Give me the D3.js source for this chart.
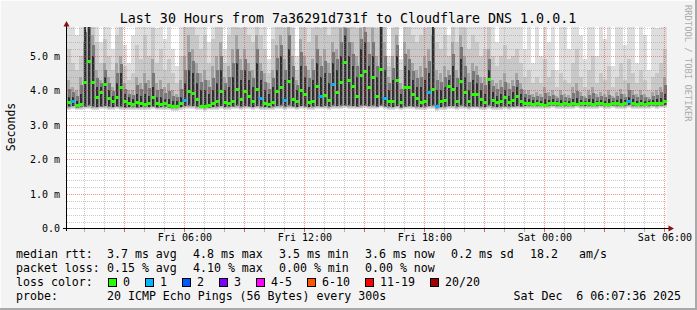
<!DOCTYPE html>
<html><head><meta charset="utf-8">
<script src="https://cdn.jsdelivr.net/npm/d3@7"></script>
<style>
html,body{margin:0;padding:0;background:#f3f3f3;}
svg{display:block;}
text{font-family:"DejaVu Sans Mono",monospace;fill:#000;white-space:pre;}
</style>
</head><body>
<svg id="chart" width="697" height="310"></svg>
<script>
const title = "Last 30 Hours from 7a36291d731f to Cloudflare DNS 1.0.0.1";
const yAxisTitle = "Seconds";
const watermark = "RRDTOOL / TOBI OETIKER";
const startTime = Date.UTC(2025, 11, 5, 0, 7, 36);
const endTime = Date.UTC(2025, 11, 6, 6, 7, 36);
const slotMinutes = 12;

// median rtt per 12-minute slot (ms)
const median = [
3.65,3.70,3.58,3.60,4.24,4.85,4.24,3.80,3.95,4.18,
3.78,3.70,3.82,4.10,3.68,3.62,3.60,3.65,3.62,3.60,
3.63,3.80,3.62,3.60,3.62,3.58,3.56,3.54,3.62,3.72,
3.97,3.93,3.75,3.56,3.55,3.58,3.62,3.70,3.97,3.65,
3.62,3.70,4.03,3.75,3.97,3.83,3.68,4.03,3.78,3.62,
3.60,3.65,3.97,4.10,3.72,4.27,3.75,3.68,4.00,3.90,
3.66,3.70,4.12,3.83,3.88,3.72,4.18,3.95,4.24,4.82,
4.30,4.12,3.83,4.45,4.56,4.10,4.38,3.85,4.62,3.78,
3.70,3.68,4.30,3.66,4.10,4.10,3.90,3.78,3.66,3.70,
3.95,4.03,3.55,3.68,3.72,4.12,4.03,3.70,4.27,3.95,
3.70,3.90,3.90,3.75,3.66,4.33,3.72,3.65,3.68,3.80,
3.66,3.72,3.83,3.70,3.64,3.62,3.60,3.63,3.60,3.58,
3.62,3.64,3.62,3.60,3.63,3.61,3.62,3.60,3.62,3.64,
3.62,3.60,3.62,3.63,3.60,3.61,3.63,3.62,3.60,3.62,
3.68,3.63,3.61,3.62,3.60,3.62,3.63,3.62,3.64,3.70];

// lost pings (of 20) per slot
const loss = [
0,1,0,0,0,0,0,0,0,0, 0,0,0,0,0,0,0,0,0,0,
0,0,0,0,0,0,0,0,0,1, 0,0,0,0,0,0,0,0,0,0,
0,0,0,0,0,0,0,0,1,0, 0,0,0,0,1,0,0,0,0,0,
0,0,0,1,0,0,1,0,0,0, 0,0,0,0,0,0,0,0,0,1,
0,0,0,0,0,0,0,0,0,0, 1,0,1,0,0,0,0,0,0,0,
0,0,0,0,0,0,0,0,0,0, 0,0,0,0,0,0,0,0,0,0,
0,0,0,0,0,0,0,0,0,0, 0,0,0,0,0,0,0,0,0,0,
1,0,0,0,0,0,0,0,0,0];

// smoke: lowest ping per slot (ms)
const smokeMin = [
3.44,3.46,3.42,3.44,3.45,3.47,3.44,3.43,3.45,3.46,
3.44,3.43,3.45,3.44,3.42,3.43,3.44,3.42,3.43,3.44,
3.43,3.45,3.42,3.43,3.44,3.42,3.41,3.40,3.43,3.46,
3.47,3.46,3.44,3.42,3.41,3.42,3.43,3.44,3.46,3.43,
3.44,3.45,3.47,3.44,3.46,3.45,3.43,3.46,3.44,3.43,
3.42,3.44,3.46,3.47,3.44,3.47,3.45,3.43,3.46,3.45,
3.43,3.44,3.46,3.45,3.46,3.44,3.47,3.46,3.47,3.48,
3.47,3.46,3.45,3.47,3.48,3.46,3.47,3.45,3.48,3.45,
3.44,3.43,3.46,3.42,3.45,3.46,3.45,3.44,3.43,3.44,
3.46,3.47,3.41,3.43,3.44,3.46,3.46,3.44,3.47,3.45,
3.44,3.45,3.45,3.44,3.43,3.47,3.44,3.43,3.44,3.45,
3.44,3.45,3.46,3.45,3.46,3.47,3.46,3.47,3.46,3.45,
3.47,3.48,3.47,3.46,3.47,3.46,3.47,3.48,3.47,3.46,
3.47,3.46,3.47,3.48,3.46,3.47,3.48,3.47,3.46,3.47,
3.49,3.47,3.46,3.47,3.46,3.47,3.48,3.47,3.48,3.49];

// smoke: top of dark inner band
const smokeDark = [
3.80,3.80,3.70,3.90,6.00,6.00,5.00,4.10,4.10,4.40,
4.00,3.85,4.20,4.50,3.90,3.80,3.75,3.90,3.85,3.90,
3.85,4.10,3.80,3.80,3.75,3.75,3.70,3.70,3.80,4.20,
4.60,4.50,4.20,4.00,4.00,3.90,4.00,4.20,4.60,4.00,
4.10,4.40,4.80,4.30,4.60,4.30,4.10,4.80,4.30,4.00,
3.90,4.10,4.60,5.00,4.30,5.20,4.40,4.00,4.70,4.40,
4.10,4.30,4.80,4.40,4.50,4.20,4.80,4.60,5.00,5.60,
5.00,4.70,4.40,5.20,5.40,4.70,5.00,4.40,6.00,4.60,
4.00,4.30,5.00,3.90,4.70,4.60,4.30,4.10,4.10,4.30,
4.50,6.00,4.00,4.00,4.10,4.30,4.70,4.10,4.90,4.40,
4.00,4.30,4.20,4.00,3.90,4.60,3.95,3.85,3.90,4.00,
3.85,3.95,4.10,3.90,3.80,3.75,3.72,3.72,3.70,3.75,
3.72,3.74,3.70,3.72,3.70,3.70,3.75,3.78,3.72,3.70,
3.74,3.76,3.70,3.72,3.70,3.74,3.70,3.72,3.75,3.72,
3.80,3.74,3.70,3.72,3.70,3.68,3.72,3.74,3.78,3.90];

// smoke: top of middle band
const smokeMid = [
4.30,4.10,4.00,4.40,5.40,6.00,5.60,4.60,4.30,4.80,
4.40,4.10,4.80,5.00,4.20,4.00,4.00,4.40,4.20,4.50,
4.30,4.90,4.20,4.30,4.10,4.20,4.00,3.90,4.30,5.00,
5.60,5.20,4.80,4.50,4.60,4.30,4.70,5.00,5.40,4.40,
4.70,5.20,5.60,4.90,5.20,4.80,4.60,5.60,4.80,4.50,
4.20,4.60,5.30,5.60,4.90,6.00,5.00,4.30,5.50,5.00,
4.60,4.90,5.60,5.00,5.20,4.80,5.40,5.20,5.80,6.00,
5.80,5.40,5.00,5.80,6.00,5.40,5.80,5.00,6.00,5.40,
4.40,5.00,5.60,4.20,5.40,5.20,4.80,4.60,4.70,5.00,
5.20,5.60,4.60,4.50,4.70,4.60,5.40,4.60,5.60,5.00,
4.50,4.80,4.70,4.40,4.40,5.20,4.30,4.20,4.30,4.50,
4.20,4.30,4.50,4.20,4.00,4.00,3.90,3.95,3.90,4.10,
3.95,4.00,3.85,4.00,3.90,3.88,4.10,4.20,3.95,3.85,
4.00,4.10,3.90,3.95,3.90,4.00,3.85,3.95,4.05,3.90,
4.20,4.00,3.90,4.00,3.90,3.82,3.95,4.00,4.10,4.40];

// smoke: top of light-middle band
const smokeLight = [
5.20,4.80,4.60,5.00,6.00,6.00,6.00,5.40,4.80,5.50,
5.00,4.60,5.60,6.00,4.70,4.30,4.50,5.30,4.90,5.60,
5.00,5.80,4.80,5.20,4.60,4.90,4.50,4.20,5.00,6.00,
6.00,6.00,5.60,5.20,5.60,4.80,5.50,6.00,6.00,4.80,
5.60,6.00,6.00,5.80,6.00,5.60,5.40,6.00,5.60,5.20,
4.50,5.50,6.00,6.00,5.80,6.00,5.80,4.60,6.00,5.80,
5.40,5.80,6.00,5.80,6.00,5.60,6.00,6.00,6.00,6.00,
6.00,6.00,5.80,6.00,6.00,6.00,6.00,5.80,6.00,6.00,
4.70,5.80,6.00,4.60,6.00,6.00,5.60,5.40,5.60,5.80,
6.00,6.00,5.40,5.20,5.60,5.00,6.00,5.40,6.00,5.80,
5.20,5.60,5.40,5.00,5.20,6.00,5.00,4.70,5.00,5.30,
4.90,5.00,5.20,4.80,4.40,4.60,4.20,4.40,4.20,4.90,
4.40,4.60,4.10,4.50,4.30,4.20,4.80,5.20,4.40,4.10,
4.60,5.00,4.20,4.50,4.30,4.70,4.10,4.40,4.80,4.30,
4.90,4.50,4.20,4.60,4.30,4.00,4.40,4.50,4.80,5.20];

// smoke: highest ping per slot (values above the chart are clipped)
const smokeMax = [
6.0,6.0,5.6,6.0,6.0,6.0,6.0,6.0,5.4,6.0,
6.0,5.2,6.0,6.0,5.3,4.8,5.6,6.0,6.0,6.0,
6.0,6.0,5.8,6.0,5.5,6.0,5.2,4.7,6.0,6.0,
6.0,6.0,6.0,6.0,6.0,5.4,6.0,6.0,6.0,5.2,
6.0,6.0,6.0,6.0,6.0,6.0,6.0,6.0,6.0,6.0,
4.9,6.0,6.0,6.0,6.0,6.0,6.0,5.0,6.0,6.0,
6.0,6.0,6.0,6.0,6.0,6.0,6.0,6.0,6.0,6.0,
6.0,6.0,6.0,6.0,6.0,6.0,6.0,6.0,6.0,6.0,
5.0,6.0,6.0,4.9,6.0,6.0,6.0,6.0,6.0,6.0,
6.0,6.0,6.0,6.0,6.0,5.6,6.0,6.0,6.0,6.0,
6.0,6.0,6.0,6.0,6.0,6.0,6.0,5.4,6.0,6.0,
6.0,6.0,6.0,6.0,5.2,6.0,4.8,6.0,5.0,6.0,
5.4,6.0,4.6,6.0,6.0,5.2,6.0,6.0,5.6,4.9,
6.0,6.0,5.0,6.0,5.5,6.0,4.7,6.0,6.0,5.3,
6.0,6.0,4.8,6.0,5.6,4.6,6.0,5.8,6.0,6.0];

const yTicks = [0, 1, 2, 3, 4, 5];
const yTickLabels = ["0.0", "1.0 m", "2.0 m", "3.0 m", "4.0 m", "5.0 m"];
const xTickTimes = [Date.UTC(2025,11,5,6), Date.UTC(2025,11,5,12), Date.UTC(2025,11,5,18), Date.UTC(2025,11,6,0), Date.UTC(2025,11,6,6)];
const xTickLabels = ["Fri 06:00", "Fri 12:00", "Fri 18:00", "Sat 00:00", "Sat 06:00"];

const lossBins = ["0", "1", "2", "3", "4-5", "6-10", "11-19", "20/20"];
const lossColors = ["#26ff00", "#00b8ff", "#0059ff", "#7e00ff", "#ff00ff", "#ff5500", "#ff0000", "#a10000"];

const rttStats = ["3.7 ms avg", "4.8 ms max", "3.5 ms min", "3.6 ms now", "0.2 ms sd", "18.2", "am/s"];
const lossStats = ["0.15 % avg", "4.10 % max", "0.00 % min", "0.00 % now"];
const probeText = "20 ICMP Echo Pings (56 Bytes) every 300s";
const stampText = "Sat Dec\u00a0\u00a06 06:07:36 2025";

// ---------- drawing ----------
const W = 697, H = 310;
const svg = d3.select("#chart");
const plot = {left: 67, right: 667, top: 27.5, bottom: 228.5};

const x = d3.scaleUtc().domain([startTime, endTime]).range([plot.left, plot.right]);
const y = d3.scaleLinear().domain([0, 5.82]).range([plot.bottom, plot.top]);

// background + 3D frame
svg.append("rect").attr("width", W).attr("height", H).attr("fill", "#f3f3f3");
svg.append("rect").attr("x", 0).attr("y", 0).attr("width", W).attr("height", 1).attr("fill", "#fdfdfd");
svg.append("rect").attr("x", 0).attr("y", 0).attr("width", 1).attr("height", H).attr("fill", "#fdfdfd");
svg.append("rect").attr("x", W - 2).attr("y", 0).attr("width", 2).attr("height", H).attr("fill", "#a9a9a9");
svg.append("rect").attr("x", 0).attr("y", H - 2).attr("width", W).attr("height", 2).attr("fill", "#a9a9a9");

// canvas
svg.append("rect").attr("x", plot.left).attr("y", Math.floor(plot.top))
  .attr("width", plot.right - plot.left).attr("height", plot.bottom - Math.floor(plot.top))
  .attr("fill", "#ffffff");

svg.append("defs").append("clipPath").attr("id", "clip").append("rect")
  .attr("x", plot.left).attr("y", Math.floor(plot.top))
  .attr("width", plot.right - plot.left).attr("height", Math.round(plot.bottom) - Math.floor(plot.top));

const slots = median.map((m, i) => ({
  i,
  t0: startTime + i * slotMinutes * 60000,
  t1: startTime + (i + 1) * slotMinutes * 60000,
  med: m, loss: loss[i], lo: smokeMin[i],
  dark: smokeDark[i], mid: smokeMid[i], light: smokeLight[i], max: smokeMax[i]
}));

const smoke = svg.append("g").attr("clip-path", "url(#clip)").attr("shape-rendering", "crispEdges");
// outer bands span the full slot, inner bands are drawn as narrower streaks
const bands = [
  {hi: d => d.max,   lo: d => d.lo,        color: "#dedede", w: 4, off: 0},
  {hi: d => d.light, lo: d => d.lo + 0.03, color: "#c8c8c8", w: 4, off: 0},
  {hi: d => d.mid,   lo: d => d.lo + 0.06, color: "#a4a4a4", w: 3, off: 0},
  {hi: d => (d.mid + d.dark) / 2, lo: d => d.lo + 0.08, color: "#787878", w: 3, off: 1},
  {hi: d => d.dark,  lo: d => d.lo + 0.10, color: "#2e2e2e", w: 2, off: 1}
];
bands.forEach(b => {
  smoke.append("g").selectAll("rect").data(slots).join("rect")
    .attr("x", d => x(d.t0) + b.off)
    .attr("width", b.w)
    .attr("y", d => y(b.hi(d)))
    .attr("height", d => Math.max(0, y(b.lo(d)) - y(b.hi(d))))
    .attr("fill", b.color);
});

// grid
const grid = svg.append("g").attr("fill", "none").attr("stroke-width", 1).attr("stroke-dasharray", "1,1");
const hours = d3.utcHour.range(startTime, endTime + 1);
hours.forEach(h => {
  const major = h.getUTCHours() % 3 === 0;
  const px = Math.round(x(h)) + 0.5;
  grid.append("line").attr("x1", px).attr("x2", px).attr("y1", Math.floor(plot.top)).attr("y2", plot.bottom)
    .attr("stroke", major ? "rgba(235,60,60,0.55)" : "rgba(140,140,140,0.45)");
});
d3.range(0, 5.81, 0.2).forEach(v => {
  const major = Math.abs(v - Math.round(v)) < 1e-6;
  if (v === 0) return;
  const py = Math.round(y(v)) + 0.5;
  grid.append("line").attr("x1", plot.left).attr("x2", plot.right).attr("y1", py).attr("y2", py)
    .attr("stroke", major ? "rgba(235,60,60,0.55)" : "rgba(140,140,140,0.45)");
});

// median coloured by loss
function lossIndex(n) {
  if (n <= 3) return n;
  if (n <= 5) return 4;
  if (n <= 10) return 5;
  if (n <= 19) return 6;
  return 7;
}
svg.append("g").attr("clip-path", "url(#clip)").attr("shape-rendering", "crispEdges")
  .selectAll("rect").data(slots).join("rect")
  .attr("x", d => x(d.t0))
  .attr("width", d => x(d.t1) - x(d.t0))
  .attr("y", d => Math.round(y(d.med)) - 1)
  .attr("height", 3)
  .attr("fill", d => lossColors[lossIndex(d.loss)]);

// axis ticks on x
const tickG = svg.append("g").attr("shape-rendering", "crispEdges");
hours.forEach(h => {
  const major = h.getUTCHours() % 3 === 0;
  const px = Math.round(x(h)) + 0.5;
  tickG.append("line").attr("x1", px).attr("x2", px).attr("y1", plot.bottom).attr("y2", plot.bottom + 3)
    .attr("stroke", major ? "#e06060" : "#b0b0b0");
});

// axes with D3
const xAxis = d3.axisBottom(x).tickValues(xTickTimes).tickFormat((d, i) => xTickLabels[i]).tickSize(0).tickPadding(5.5);
const gx = svg.append("g").attr("transform", `translate(0,${plot.bottom})`).call(xAxis);
gx.select(".domain").remove();
gx.selectAll("text").attr("font-family", "DejaVu Sans Mono").attr("font-size", "10px").attr("fill", "#000");

const yAxis = d3.axisLeft(y).tickValues(yTicks).tickFormat((d, i) => yTickLabels[i]).tickSize(0).tickPadding(6.5);
const gy = svg.append("g").attr("transform", `translate(${plot.left - 0.5},0)`).call(yAxis);
gy.select(".domain").remove();
gy.selectAll("text").attr("font-family", "DejaVu Sans Mono").attr("font-size", "10px").attr("fill", "#000");

// axis lines + arrows
svg.append("line").attr("x1", 63).attr("x2", 670).attr("y1", plot.bottom).attr("y2", plot.bottom)
  .attr("stroke", "#000").attr("shape-rendering", "crispEdges");
svg.append("line").attr("x1", plot.left - 0.5).attr("x2", plot.left - 0.5).attr("y1", 231).attr("y2", 24)
  .attr("stroke", "#000").attr("shape-rendering", "crispEdges");
svg.append("path").attr("d", `M${plot.left - 3.5},26.5 L${plot.left + 2.5},26.5 L${plot.left - 0.5},21 Z`).attr("fill", "#8b1010");
svg.append("path").attr("d", `M668.5,225.5 L668.5,231.5 L674,228.5 Z`).attr("fill", "#8b1010");

// title & labels
svg.append("text").attr("x", 348).attr("y", 23).attr("text-anchor", "middle")
  .attr("font-size", "13.3px").text(title);
svg.append("text").attr("transform", "translate(15,127) rotate(-90)").attr("text-anchor", "middle")
  .attr("font-size", "11.5px").text(yAxisTitle);
svg.append("text").attr("transform", "translate(684.5,5) rotate(90)")
  .attr("font-size", "8.8px").style("fill", "#ababab").text(watermark);

// legend
const lf = "11.6px";
const leg = svg.append("g").attr("font-size", lf);
const row1 = 257.5, row2 = 271.5, row3 = 285.5, row4 = 299.5;
leg.append("text").attr("x", 16).attr("y", row1).text("median rtt:");
const rttX = [107, 193, 279, 365, 451, 530, 579];
rttStats.forEach((s, i) => leg.append("text").attr("x", rttX[i]).attr("y", row1).text(s));
leg.append("text").attr("x", 16).attr("y", row2).text("packet loss:");
const lossX = [107, 193, 279, 365];
lossStats.forEach((s, i) => leg.append("text").attr("x", lossX[i]).attr("y", row2).text(s));
leg.append("text").attr("x", 16).attr("y", row3).text("loss color:");
const boxX = [108.5, 145.5, 182.5, 219.5, 256.5, 307.5, 365.5, 430.5];
lossBins.forEach((b, i) => {
  leg.append("rect").attr("x", boxX[i]).attr("y", 278.5).attr("width", 8).attr("height", 8)
    .attr("fill", lossColors[i]).attr("stroke", "#000").attr("stroke-width", 1);
  leg.append("text").attr("x", boxX[i] + 14.5).attr("y", row3).text(b);
});
leg.append("text").attr("x", 16).attr("y", row4).text("probe:");
leg.append("text").attr("x", 107).attr("y", row4).text(probeText);
leg.append("text").attr("x", 513.5).attr("y", row4).text(stampText);
</script>
</body></html>
